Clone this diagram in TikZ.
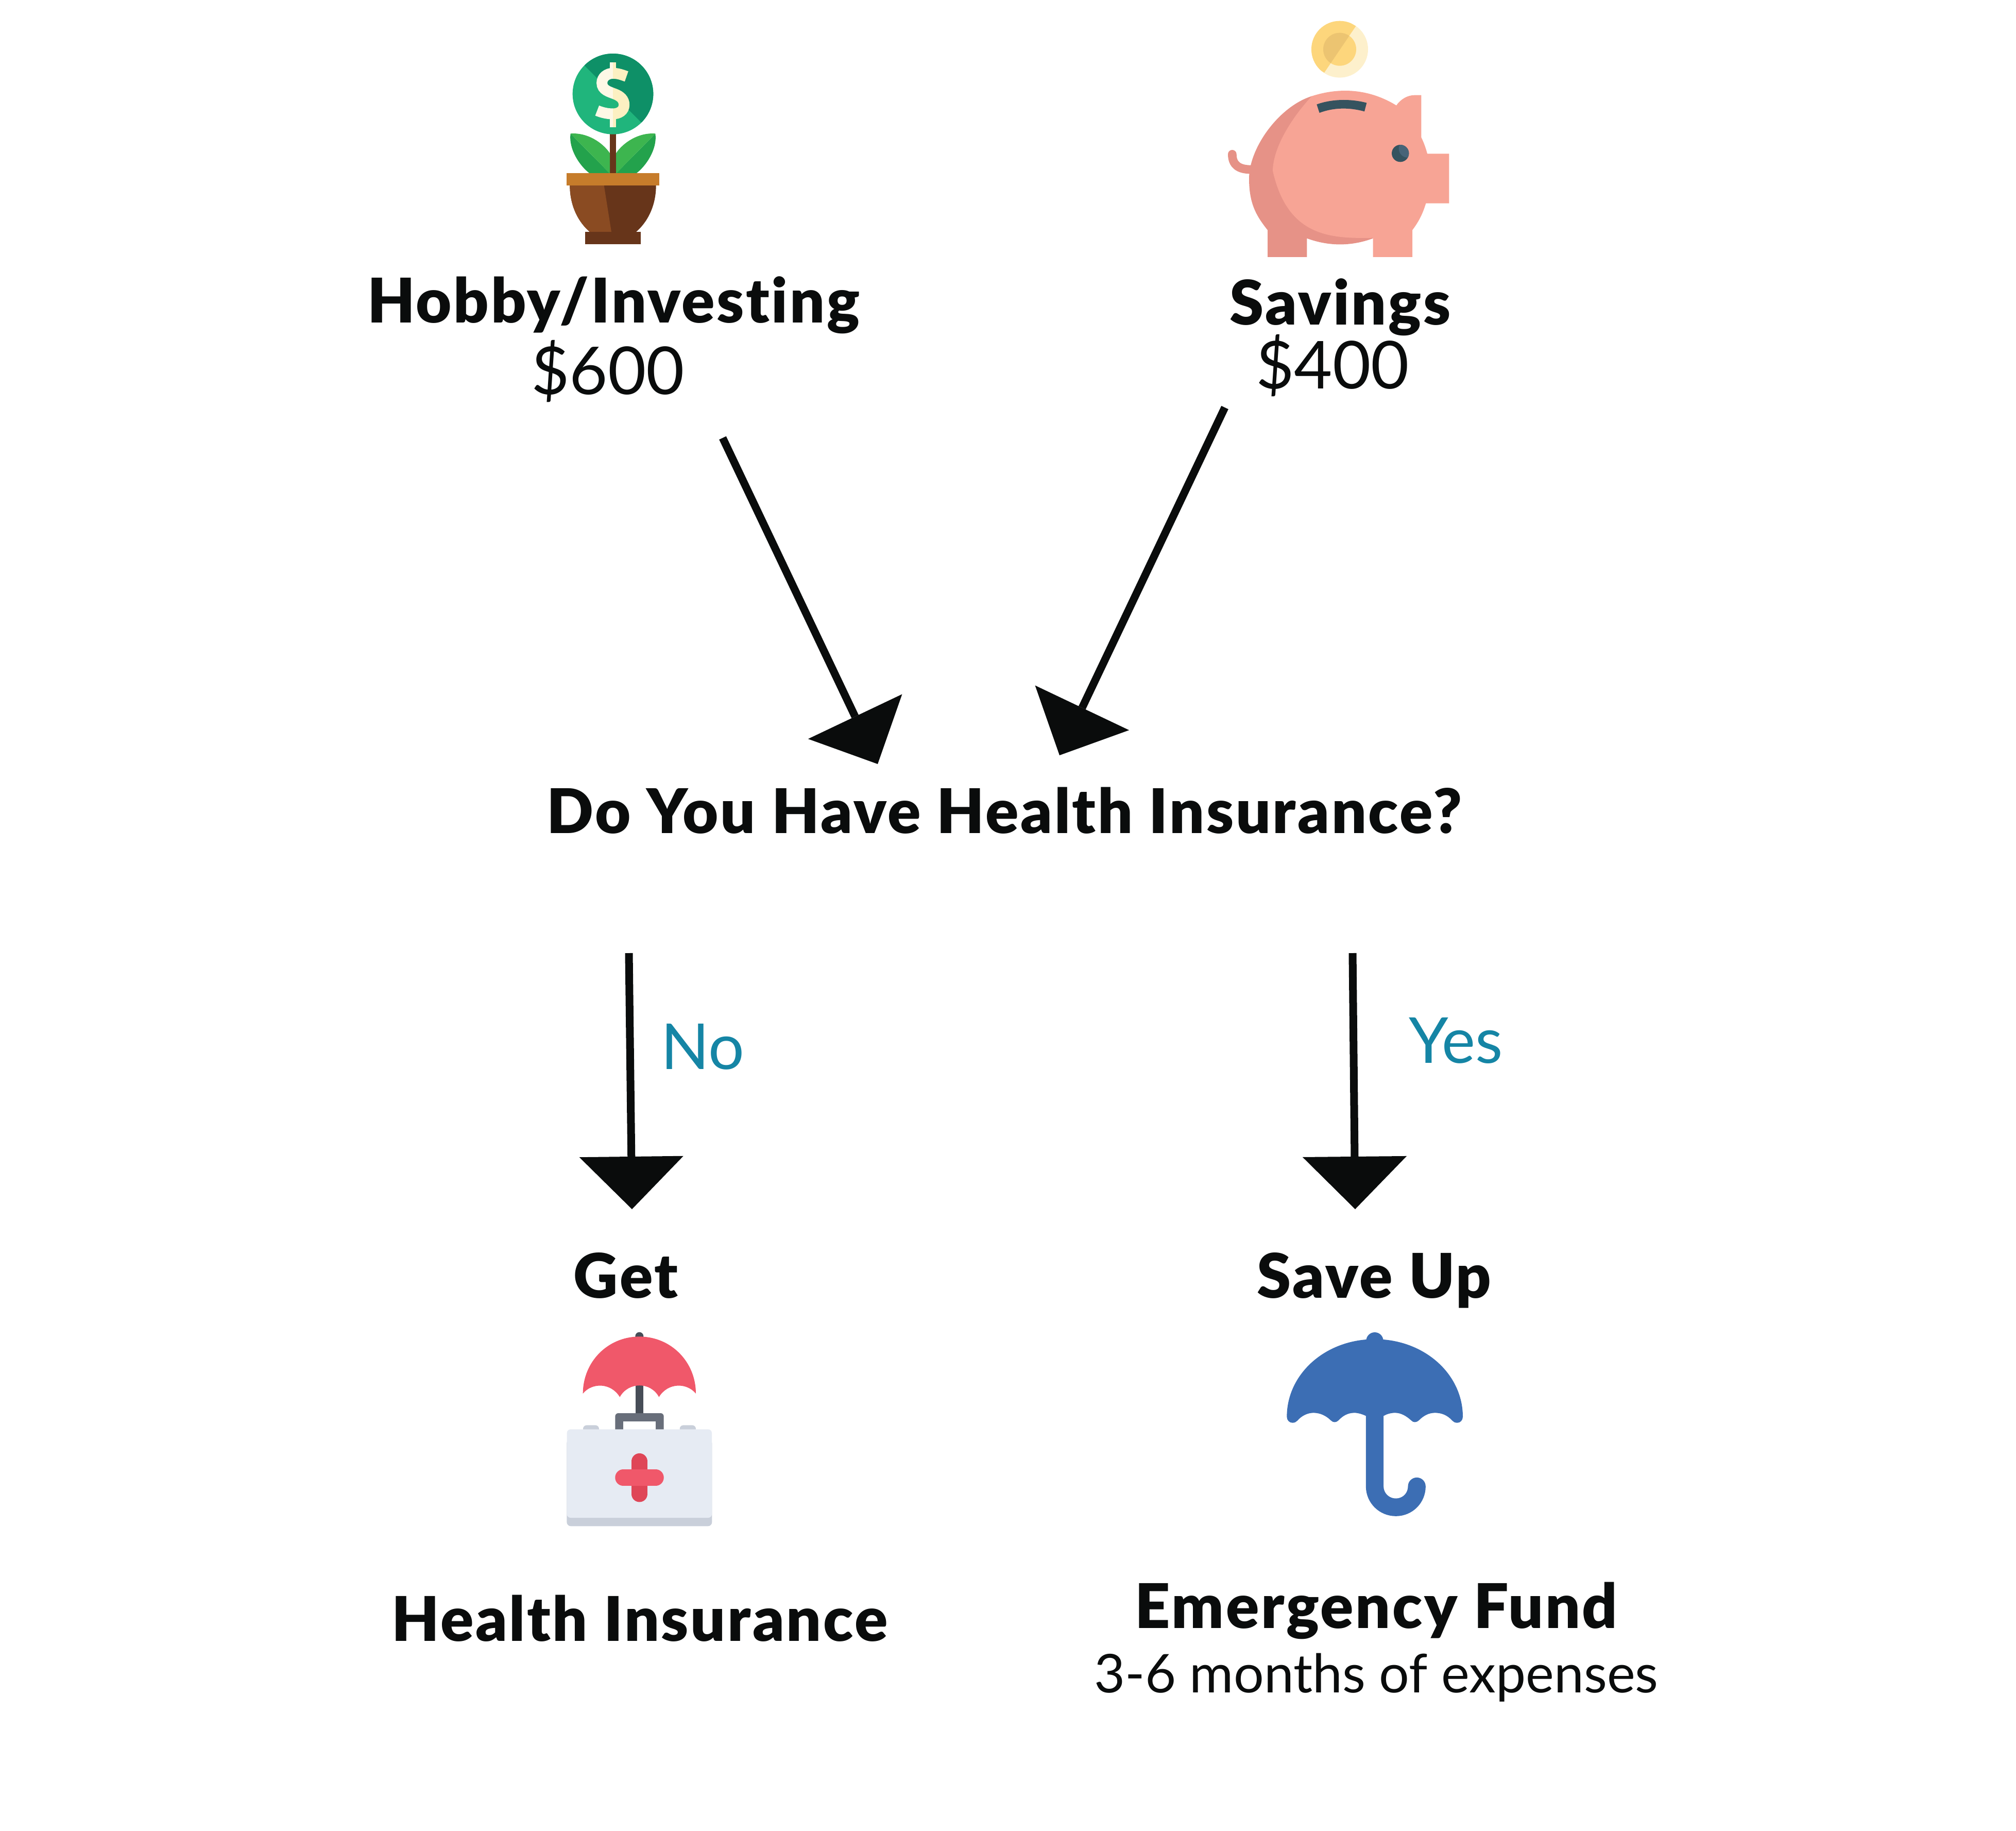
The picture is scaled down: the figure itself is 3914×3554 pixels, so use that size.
\documentclass[tikz,border=0pt]{standalone}
\usepackage{fontspec}
\setmainfont{Lato}[BoldFont={Lato Black}, BoldFeatures={LetterSpace=3}, Ligatures=NoCommon]
\usetikzlibrary{arrows.meta}
\definecolor{inkblack}{HTML}{0A0C0C}
\definecolor{answerteal}{HTML}{1585A5}
\definecolor{coinlight}{HTML}{20B57C}
\definecolor{coindark}{HTML}{0E9067}
\definecolor{signlight}{HTML}{FDF8E6}
\definecolor{signdark}{HTML}{FCF0C2}
\definecolor{leaflight}{HTML}{3DB54F}
\definecolor{leafdark}{HTML}{23A24C}
\definecolor{potrim}{HTML}{C67C2B}
\definecolor{potlight}{HTML}{8A4B22}
\definecolor{potdark}{HTML}{67351A}
\definecolor{piglight}{HTML}{F7A495}
\definecolor{pigdark}{HTML}{E69287}
\definecolor{pigslate}{HTML}{35535F}
\definecolor{pigeye}{HTML}{476478}
\definecolor{goldpale}{HTML}{FDF0CC}
\definecolor{goldmid}{HTML}{FDD67C}
\definecolor{golddeep}{HTML}{ECC471}
\definecolor{kitred}{HTML}{F0586A}
\definecolor{kitdeep}{HTML}{DF4657}
\definecolor{kitpole}{HTML}{474D57}
\definecolor{kithandle}{HTML}{686E7A}
\definecolor{kitshade}{HTML}{C9CFDA}
\definecolor{kitface}{HTML}{E6EBF3}
\definecolor{umbrellablue}{HTML}{3C6EB4}
\tikzset{
  headlabel/.style={anchor=base, inner sep=0pt, text=inkblack, font=\fontsize{34}{40}\selectfont\bfseries},
  amountlabel/.style={anchor=base, inner sep=0pt, text=inkblack, font=\fontsize{36.5}{40}\selectfont},
  notelabel/.style={anchor=base, inner sep=0pt, text=inkblack, font=\fontsize{29.5}{34}\selectfont},
  answerlabel/.style={anchor=base west, inner sep=0pt, text=answerteal, font=\fontsize{35}{40}\selectfont},
  flowarrow/.style={line width=0.15cm, color=inkblack, -{Triangle[length=1.02cm,width=2.02cm,line width=0pt]}},
  iconscale/.style={scale=1/3}
}
\begin{document}
\begin{tikzpicture}[x=0.01cm, y=-0.01cm]
\useasboundingbox (0,0) rectangle (3914,3554);
\node[headlabel] (hobbyhead) at (1191,626) {Hobby/Investing};
\node[amountlabel] (hobbyamount) at (1180,765) {\$600};
\node[headlabel] (savingshead) at (2602,630) {Savings};
\node[amountlabel] (savingsamount) at (2587,754) {\$400};
\node[headlabel] (question) at (1950,1617) {Do You Have Health Insurance?};
\node[answerlabel] (noanswer) at (1283,2075) {No};
\node[answerlabel] (yesanswer) at (2735,2063) {Yes};
\node[headlabel] (gethead) at (1215,2519) {Get};
\node[headlabel] (saveuphead) at (2668,2519) {Save Up};
\node[headlabel] (healthhead) at (1242,3185) {Health Insurance};
\node[headlabel] (fundhead) at (2672,3160) {Emergency Fund};
\node[notelabel] (fundnote) at (2672,3285) {3-6 months of expenses};
\coordinate (hobbyout) at (1403,850);
\coordinate (questioninl) at (1704,1483);
\coordinate (savingsout) at (2378,791);
\coordinate (questioninr) at (2057,1466);
\coordinate (questionoutl) at (1221,1850);
\coordinate (getin) at (1227,2347);
\coordinate (questionoutr) at (2626,1850);
\coordinate (saveupin) at (2631,2347);
\draw[flowarrow] (hobbyout) -- (questioninl);
\draw[flowarrow] (savingsout) -- (questioninr);
\draw[flowarrow] (questionoutl) -- (getin);
\draw[flowarrow] (questionoutr) -- (saveupin);
% plant
\begin{scope}[shift={(1050,60)}, iconscale]
\fill[potdark] (402,590) rectangle (438,835);
\fill[leafdark] (173,598) .. controls (160,690) and (230,790) .. (285,830) -- (402,830) -- cycle;
\fill[leaflight] (173,598) .. controls (270,590) and (360,650) .. (402,712) -- (402,830) -- cycle;
\fill[leafdark] (667,598) .. controls (680,690) and (610,790) .. (555,830) -- (438,830) -- cycle;
\fill[leaflight] (667,598) .. controls (570,590) and (480,650) .. (438,712) -- (438,830) -- cycle;
\fill[coinlight] (420,367) circle (235);
\begin{scope}
\clip (420,367) circle (235);
\fill[coindark] (253,200) -- (585,533) -- (800,400) -- (500,0) -- cycle;
\end{scope}
\foreach \signcol/\signx in {signlight/0, signdark/420} {
  \begin{scope}
  \clip (\signx,100) rectangle ++(420,500);
  \draw[\signcol, line width=0.21cm] (499,265) .. controls (470,255) and (450,247) .. (420,247) .. controls (385,247) and (356,270) .. (356,303) .. controls (356,345) and (400,355) .. (430,367) .. controls (465,380) and (485,400) .. (485,430) .. controls (485,465) and (455,483) .. (420,483) .. controls (385,483) and (355,475) .. (328,464);
  \fill[\signcol] (402,183) rectangle (438,235);
  \fill[\signcol] (402,495) rectangle (438,560);
  \end{scope}
}
\fill[potdark] (169,900) -- (671,900) .. controls (671,1020) and (620,1115) .. (555,1170) -- (285,1170) .. controls (220,1115) and (169,1020) .. (169,900) -- cycle;
\fill[potlight] (169,900) -- (368,900) -- (411,1170) -- (285,1170) .. controls (220,1115) and (169,1020) .. (169,900) -- cycle;
\fill[potrim] (151,829) rectangle (689,900);
\fill[potdark] (258,1169) rectangle (581,1241);
\end{scope}
% piggy bank
\begin{scope}[shift={(2350,20)}, iconscale]
\fill[goldpale] (753,227) circle (165);
\begin{scope}
\clip (847,92) -- (663,363) -- (400,200) -- (600,-50) -- cycle;
\fill[goldmid] (753,227) circle (165);
\end{scope}
\fill[goldmid] (753,227) circle (96);
\begin{scope}
\clip (847,92) -- (663,363) -- (400,200) -- (600,-50) -- cycle;
\fill[golddeep] (753,227) circle (96);
\end{scope}
\draw[pigdark, line width=0.167cm, line cap=round] (127,838) .. controls (127,900) and (165,927) .. (235,927);
\fill[piglight] (590,500) .. controls (760,445) and (930,460) .. (1083,554) .. controls (1110,515) and (1150,494) .. (1190,494) -- (1228,494) -- (1228,740) .. controls (1245,775) and (1255,805) .. (1263,835) -- (1390,835) -- (1390,1124) -- (1255,1124) .. controls (1235,1190) and (1210,1235) .. (1176,1280) -- (1176,1437) -- (947,1437) -- (947,1328) -- (940,1300) -- (500,1250) -- cycle;
\fill[pigdark] (590,500) .. controls (400,560) and (225,800) .. (225,980) .. controls (225,1130) and (270,1200) .. (333,1280) -- (333,1437) -- (562,1437) -- (562,1328) .. controls (690,1375) and (820,1375) .. (947,1328) -- cycle;
\fill[piglight] (947,1325) .. controls (700,1330) and (450,1320) .. (363,935) .. controls (365,800) and (470,630) .. (590,500) -- (1000,700) -- (1000,1300) -- cycle;
\fill[pigslate] (619,548) .. controls (710,515) and (820,515) .. (910,539) -- (897,589) .. controls (810,565) and (720,565) .. (635,597) -- cycle;
\fill[pigslate] (1106,833) circle (50);
\begin{scope}
\clip (1106,833) circle (50);
\fill[pigeye] (1150,805) circle (53);
\end{scope}
\end{scope}
% first aid kit
\begin{scope}[shift={(1060,2560)}, iconscale]
\fill[kitpole] (544,101) circle (24);
\fill[kitpole] (521,100) rectangle (568,560);
\fill[kitred] (215,435) .. controls (215,250) and (360,103) .. (544,103) .. controls (728,103) and (873,250) .. (873,435) .. controls (820,370) and (710,370) .. (658,455) .. controls (610,365) and (480,365) .. (430,455) .. controls (378,370) and (268,370) .. (215,435) -- cycle;
\fill[kitshade, rounded corners=0.07cm] (216,660) rectangle (309,619);
\fill[kitshade, rounded corners=0.07cm] (779,660) rectangle (873,619);
\fill[kithandle, rounded corners=0.06cm] (403,660) rectangle (686,549);
\fill[white] (450,660) rectangle (638,596);
\fill[kitshade, rounded corners=0.08cm] (121,700) rectangle (967,1207);
\fill[kitface, rounded corners=0.07cm] (122,643) rectangle (966,1158);
\draw[kitdeep, line width=0.315cm, line cap=round] (544.5,830) -- (544.5,1019);
\draw[kitred, line width=0.315cm, line cap=round] (450,924) -- (639,924);
\end{scope}
% umbrella
\begin{scope}[shift={(2470,2560)}, iconscale]
\fill[umbrellablue] (597,128) circle (50);
\fill[umbrellablue] (85,570) .. controls (85,320) and (310,118) .. (597,118) .. controls (884,118) and (1110,320) .. (1110,570) .. controls (1110,590) and (1095,605) .. (1078,605) .. controls (1065,605) and (1055,600) .. (1048,592) .. controls (1020,560) and (985,547) .. (948,547) .. controls (910,547) and (880,565) .. (855,590) .. controls (838,605) and (822,605) .. (808,590) .. controls (780,565) and (750,547) .. (715,547) .. controls (690,547) and (665,555) .. (648,565) -- (546,565) .. controls (525,555) and (500,547) .. (478,547) .. controls (440,547) and (410,565) .. (387,590) .. controls (372,605) and (355,605) .. (340,590) .. controls (315,565) and (280,547) .. (240,547) .. controls (205,547) and (170,565) .. (147,592) .. controls (140,600) and (130,605) .. (118,605) .. controls (100,605) and (85,590) .. (85,570) -- cycle;
\draw[umbrellablue, line width=0.343cm, line cap=round] (597,540) -- (597,975) .. controls (597,1043) and (652,1097) .. (720,1097) .. controls (788,1097) and (842,1043) .. (842,975);
\end{scope}
\end{tikzpicture}
\end{document}
